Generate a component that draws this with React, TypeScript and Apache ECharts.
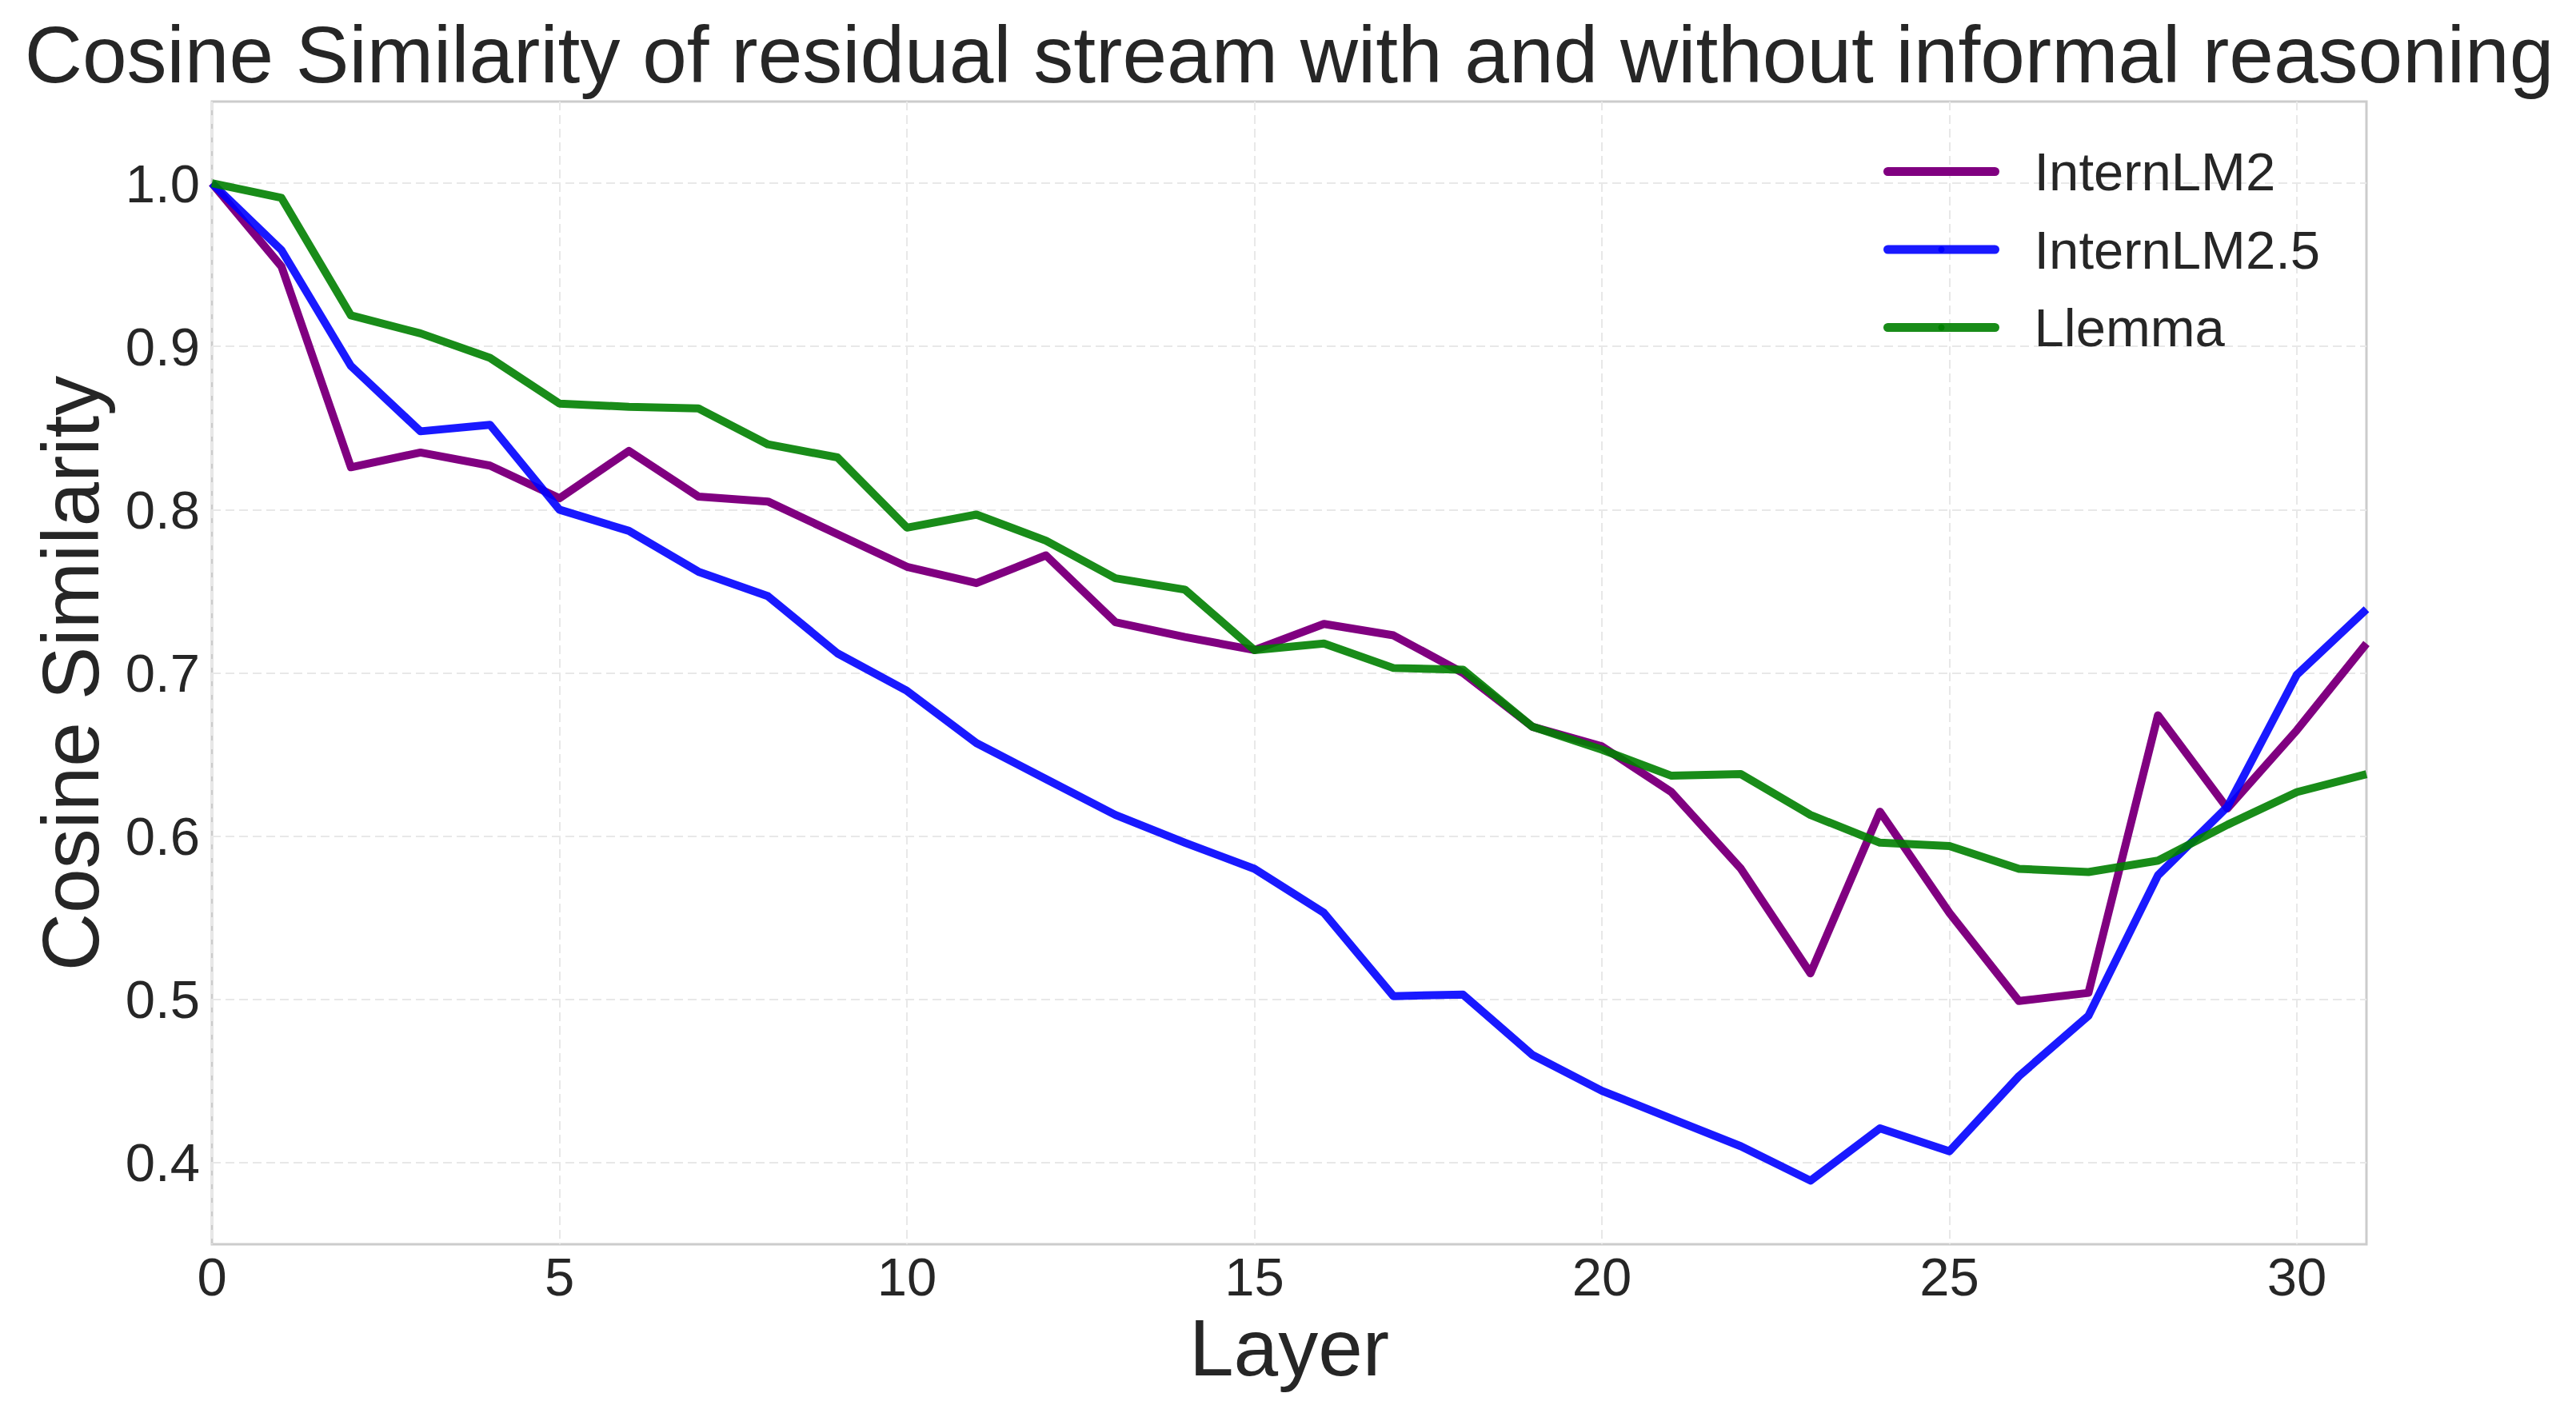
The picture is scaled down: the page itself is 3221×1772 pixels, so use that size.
import React, { useEffect, useRef } from 'react';
import * as echarts from 'echarts';

const layers = [0, 1, 2, 3, 4, 5, 6, 7, 8, 9, 10, 11, 12, 13, 14, 15, 16, 17, 18, 19, 20, 21, 22, 23, 24, 25, 26, 27, 28, 29, 30, 31];

const internLM2 = [1.0, 0.949, 0.826, 0.835, 0.827, 0.807, 0.836, 0.808, 0.805, 0.785, 0.765, 0.755, 0.772, 0.731, 0.722, 0.714, 0.730, 0.723, 0.700, 0.667, 0.655, 0.627, 0.580, 0.516, 0.615, 0.553, 0.499, 0.504, 0.674, 0.617, 0.665, 0.718];
const internLM25 = [1.0, 0.959, 0.888, 0.848, 0.852, 0.800, 0.787, 0.762, 0.747, 0.712, 0.689, 0.657, 0.635, 0.613, 0.596, 0.580, 0.553, 0.502, 0.503, 0.466, 0.444, 0.427, 0.410, 0.389, 0.421, 0.407, 0.453, 0.490, 0.576, 0.618, 0.699, 0.739];
const llemma = [1.0, 0.991, 0.919, 0.908, 0.893, 0.865, 0.863, 0.862, 0.840, 0.832, 0.789, 0.797, 0.781, 0.758, 0.751, 0.714, 0.718, 0.703, 0.702, 0.667, 0.653, 0.637, 0.638, 0.613, 0.596, 0.594, 0.580, 0.578, 0.585, 0.607, 0.627, 0.638];

const seriesNames = ['InternLM2', 'InternLM2.5', 'Llemma'];
const seriesColors = ['#800080', '#0000ff', '#008000'];
const seriesOpacity = [1, 0.9, 0.9];
const xTicks = [0, 5, 10, 15, 20, 25, 30];
const yTicks = [0.4, 0.5, 0.6, 0.7, 0.8, 0.9, 1.0];

const titleText = 'Cosine Similarity of residual stream with and without informal reasoning';
const xName = 'Layer';
const yName = 'Cosine Similarity';

const FONT = 'Liberation Sans, Arial, sans-serif';
const TEXT = '#262626';

export default function App() {
  const ref = useRef<HTMLDivElement>(null);

  useEffect(() => {
    if (!ref.current) return;
    const chart = echarts.init(ref.current, undefined, { renderer: 'svg' });
    const allSeries = [internLM2, internLM25, llemma];
    const option: any = {
      animation: false,
      backgroundColor: '#ffffff',
      grid: {
        left: 265,
        right: 262,
        top: 127,
        bottom: 216,
        show: true,
        borderColor: '#cccccc',
        borderWidth: 3,
        backgroundColor: 'transparent',
      },
      xAxis: {
        type: 'value',
        min: 0,
        max: 31,
        interval: 5,
        axisLine: { show: false },
        axisTick: { show: false, customValues: xTicks },
        axisLabel: {
          customValues: xTicks,
          fontSize: 67,
          lineHeight: 67,
          color: TEXT,
          fontFamily: FONT,
          margin: 7,
        },
        splitLine: { show: true, lineStyle: { color: '#e8e8e8', width: 2, type: [11, 6] } },
      },
      yAxis: {
        type: 'value',
        min: 0.35,
        max: 1.05,
        axisLine: { show: false },
        axisTick: { show: false, customValues: yTicks },
        axisLabel: {
          customValues: yTicks,
          fontSize: 67,
          lineHeight: 67,
          color: TEXT,
          fontFamily: FONT,
          margin: 15,
          formatter: (v: number) => v.toFixed(1),
        },
        splitLine: { show: true, lineStyle: { color: '#e8e8e8', width: 2, type: [11, 6] } },
      },
      legend: {
        orient: 'vertical',
        left: 2350,
        top: 176,
        itemWidth: 134,
        itemHeight: 10,
        itemGap: 30.5,
        data: seriesNames,
        textStyle: {
          fontSize: 67,
          lineHeight: 67,
          color: TEXT,
          fontFamily: FONT,
          padding: [0, 0, 0, 44],
        },
        lineStyle: { width: 11, cap: 'round' },
      },
      series: seriesNames.map((name, i) => ({
        name,
        type: 'line',
        symbol: 'none',
        data: layers.map((l, j) => [l, allSeries[i][j]]),
        color: seriesColors[i],
        lineStyle: { width: 10, color: seriesColors[i], opacity: seriesOpacity[i], join: 'round', cap: 'butt' },
        itemStyle: { color: seriesColors[i] },
        emphasis: { disabled: true },
      })),
      graphic: [
        {
          type: 'text',
          x: 1612,
          y: 68,
          style: {
            text: titleText,
            fontSize: 100,
            fontFamily: FONT,
            fill: TEXT,
            align: 'center',
            verticalAlign: 'middle',
          },
        },
        {
          type: 'text',
          x: 1612,
          y: 1685,
          style: {
            text: xName,
            fontSize: 100,
            fontFamily: FONT,
            fill: TEXT,
            align: 'center',
            verticalAlign: 'middle',
          },
        },
        {
          type: 'text',
          x: 88,
          y: 842,
          rotation: Math.PI / 2,
          style: {
            text: yName,
            fontSize: 100,
            fontFamily: FONT,
            fill: TEXT,
            align: 'center',
            verticalAlign: 'middle',
          },
        },
      ],
    };
    chart.setOption(option);
    return () => {
      chart.dispose();
    };
  }, []);

  return (
    <div
      ref={ref}
      style={{ position: 'fixed', left: 0, top: 0, width: '3221px', height: '1772px' }}
    />
  );
}
